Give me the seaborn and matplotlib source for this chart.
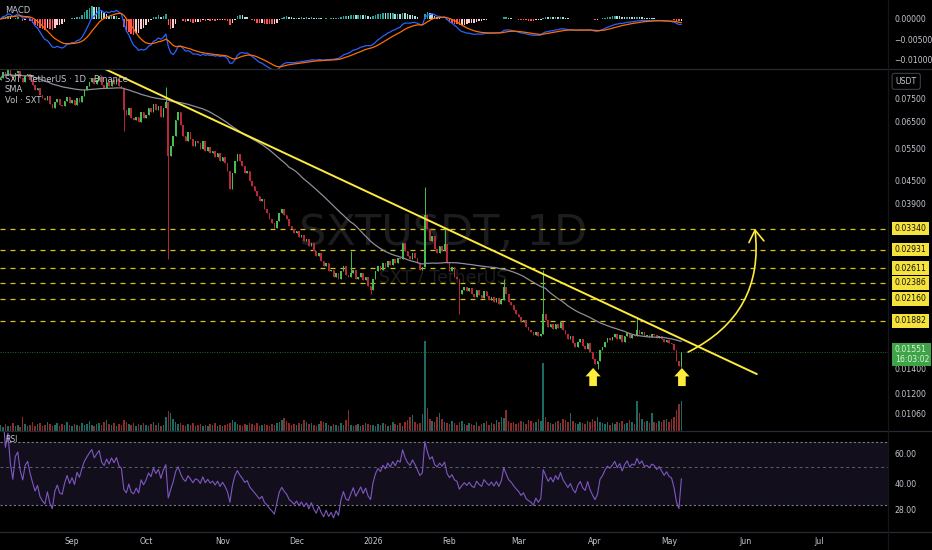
import numpy as np
import pandas as pd
import matplotlib
matplotlib.use("Agg")
import matplotlib.pyplot as plt
from matplotlib.lines import Line2D
from matplotlib.ticker import FixedLocator, NullLocator, FixedFormatter
import seaborn as sns

# ---- values: SXT/USDT 1D (Binance) ----
start_day = "2025-08-03"
first_open = 0.0840

close_aug = [.0850, .0882, .0866, .0893, .0860, .0839, .0876, .0888, .0850, .0829,
             .0860, .0871, .0839, .0813, .0788, .0798, .0764, .0750, .0741, .0759,
             .0723, .0705, .0732, .0745, .0718, .0714, .0736, .0754, .0727]
close_sep = [.0741, .0718, .0750, .0732, .0759, .0788, .0808, .0829, .0850, .0818,
             .0839, .0860, .0813, .0798, .0829, .0808, .0839, .0818, .0845, .0808,
             .0798, .0696, .0678, .0705, .0662, .0654, .0670, .0646, .0687, .0662]
close_oct = [.0678, .0705, .0687, .0723, .0696, .0714, .0670, .0705, .0732, .0525,
             .0559, .0595, .0654, .0687, .0634, .0595, .0577, .0607, .0584, .0559,
             .0577, .0570, .0549, .0577, .0542, .0556, .0535, .0542, .0522, .0535, .0509]
close_nov = [.0522, .0503, .0478, .0427, .0472, .0509, .0532, .0509, .0493, .0472,
             .0478, .0449, .0435, .0422, .0409, .0396, .0401, .0377, .0368, .0355,
             .0346, .0335, .0350, .0368, .0377, .0364, .0355, .0339, .0333, .0325]
close_dec = [.0329, .0317, .0321, .0309, .0313, .0299, .0305, .0290, .0281, .0287,
             .0273, .0264, .0269, .0256, .0259, .0248, .0253, .0244, .0256, .0264,
             .0250, .0247, .0253, .0259, .0244, .0248, .0253, .0242, .0247, .0234, .0228]
close_jan = [.0244, .0256, .0264, .0259, .0269, .0263, .0273, .0266, .0276, .0269,
             .0279, .0276, .0305, .0290, .0281, .0276, .0287, .0279, .0269, .0259,
             .0263, .0363, .0333, .0309, .0319, .0294, .0287, .0299, .0290, .0303, .0269]
close_feb = [.0256, .0263, .0248, .0244, .0222, .0228, .0233, .0226, .0231, .0222,
             .0219, .0228, .0221, .0217, .0226, .0220, .0215, .0219, .0212, .0217,
             .0209, .0215, .0233, .0222, .0212, .0208, .0202, .0197]
close_mar = [.0193, .0187, .0189, .0181, .0178, .0176, .0172, .0176, .0171, .0173,
             .0197, .0189, .0181, .0185, .0179, .0185, .0180, .0187, .0178, .0173,
             .0168, .0171, .0164, .0160, .0165, .0168, .0161, .0158, .0164, .0155, .0149]
close_apr = [.0144, .0147, .0157, .0160, .0165, .0169, .0167, .0170, .0174, .0168,
             .0172, .0165, .0171, .0175, .0169, .0172, .0171, .0178, .0173, .0176,
             .0171, .0172, .0170, .0173, .0172, .0169, .0171, .0168, .0165, .0167]
close_may = [.0164, .0163, .0157, .0147, .0142, .01551]

# volume (M SXT)
vol_aug = [6, 4, 7, 5, 5, 8, 5, 6, 4, 14, 7, 5, 6, 9, 5, 7, 8, 5, 6, 9, 7, 5, 6, 8, 5, 7, 6, 9, 6]
vol_sep = [5, 7, 6, 5, 8, 6, 7, 10, 6, 5, 7, 8, 6, 9, 11, 7, 6, 8, 5, 7, 6, 11, 9, 7, 6, 8, 5, 7, 6, 8]
vol_oct = [6, 5, 7, 9, 6, 8, 5, 6, 14, 20, 18, 12, 9, 7, 8, 6, 5, 7, 6, 8, 5, 6, 7, 5, 6, 5, 7, 6, 8, 5, 6]
vol_nov = [5, 6, 7, 8, 11, 9, 7, 6, 5, 7, 6, 8, 7, 6, 8, 5, 6, 7, 6, 5, 7, 6, 8, 9, 11, 13, 10, 8, 6, 7]
vol_dec = [6, 8, 7, 11, 9, 7, 8, 6, 5, 7, 10, 9, 8, 6, 5, 7, 6, 5, 8, 6, 11, 21, 6, 5, 6, 7, 5, 6, 8, 7, 6]
vol_jan = [6, 5, 7, 6, 8, 7, 5, 6, 9, 7, 6, 8, 5, 9, 11, 14, 16, 9, 7, 8, 17, 90, 23, 12, 10, 9, 14, 18, 12, 9, 8]
vol_feb = [7, 10, 8, 6, 9, 10, 7, 6, 8, 7, 6, 9, 5, 7, 8, 10, 6, 8, 7, 11, 9, 14, 13, 21, 10, 8, 9, 7]
vol_mar = [8, 10, 9, 7, 11, 10, 8, 9, 12, 10, 68, 14, 9, 8, 7, 9, 10, 8, 12, 11, 9, 18, 10, 8, 7, 9, 8, 7, 10, 9, 12]
vol_apr = [10, 14, 9, 8, 7, 9, 6, 8, 7, 9, 8, 10, 7, 8, 11, 9, 7, 30, 18, 12, 9, 10, 8, 18, 9, 8, 10, 9, 11, 12]
vol_may = [9, 12, 14, 21, 27, 30]

# long wicks
wick_days = ["2025-09-22", "2025-10-09", "2025-10-10", "2025-12-23", "2025-12-31", "2026-01-22",
             "2026-01-30", "2026-02-05", "2026-02-23", "2026-03-11", "2026-04-02", "2026-04-18", "2026-05-06"]
wick_high = [np.nan, .0803, np.nan, .0290, np.nan, .0433, .0333, np.nan, .0244, .0258, np.nan, .0193, np.nan]
wick_low = [.0614, np.nan, .0276, np.nan, .0223, np.nan, np.nan, .0197, np.nan, np.nan, .0140, np.nan, .0141]

levels = [0.03340, 0.02931, 0.02611, 0.02386, 0.02160, 0.01882]
last_price = 0.01551
countdown = "16:03:02"
price_ticks = [0.075, 0.065, 0.055, 0.045, 0.039, 0.014, 0.012, 0.0106]
macd_ticks = [0.0, -0.005, -0.01]
rsi_ticks = [60, 40, 28]
macd_fast, macd_slow, macd_sig = 8, 44, 9

trend_dates = ["2025-09-14 08:00", "2026-06-05 14:00"]
trend_prices = [0.0900, 0.01353]
target_from = ("2026-05-08 17:00", 0.01551)
target_to = ("2026-06-04 19:00", 0.03340)
bottom_dates = ["2026-03-31 05:00", "2026-05-06 05:00"]
arrow_tip, arrow_base = 0.01405, 0.01256

# ---- build frame ----
closes = close_aug + close_sep + close_oct + close_nov + close_dec + close_jan + close_feb + close_mar + close_apr + close_may
volumes = vol_aug + vol_sep + vol_oct + vol_nov + vol_dec + vol_jan + vol_feb + vol_mar + vol_apr + vol_may
df = pd.DataFrame({"date": pd.date_range(start_day, periods=len(closes), freq="D"),
                   "close": closes, "volume": volumes})
df["open"] = df["close"].shift(1).fillna(first_open)
wk = pd.DataFrame({"date": pd.to_datetime(wick_days), "wh": wick_high, "wl": wick_low})
df = df.merge(wk, on="date", how="left")
df["body_hi"] = df[["open", "close"]].max(axis=1)
df["body_lo"] = df[["open", "close"]].min(axis=1)
df["high"] = df[["body_hi", "wh"]].max(axis=1)
df["low"] = df[["body_lo", "wl"]].min(axis=1)
up = df["close"] >= df["open"]

df["sma"] = df["close"].rolling(50, min_periods=1).mean()
ema_f = df["close"].ewm(span=macd_fast, adjust=False).mean()
ema_s = df["close"].ewm(span=macd_slow, adjust=False).mean()
df["macd"] = ema_f - ema_s
df["signal"] = df["macd"].ewm(span=macd_sig, adjust=False).mean()
df["hist"] = df["macd"] - df["signal"]
delta = df["close"].diff()
gain = delta.clip(lower=0).ewm(alpha=1 / 14, adjust=True).mean()
loss = (-delta.clip(upper=0)).ewm(alpha=1 / 14, adjust=True).mean()
df["rsi"] = 100 - 100 / (1 + gain / loss)
df["rsi"] = df["rsi"].bfill()

# ---- style ----
BG = "#000000"
TXT = "#c3c6ce"
GRID = "#262a33"
UP, DOWN = "#46bf50", "#b8283a"
VUP, VDOWN = "#1d6a62", "#8a2c2c"
YEL = "#ffeb3b"

sns.set_theme(style="dark", rc={"axes.facecolor": BG, "figure.facecolor": BG})
plt.rcParams["font.family"] = ["DejaVu Sans"]
FS = 5.6

fig = plt.figure(figsize=(9.32, 5.5), dpi=100)
W = 888 / 932
ax_m = fig.add_axes([0, 481 / 550, W, 69 / 550])
ax_v = fig.add_axes([0, 119 / 550, W, 362 / 550])
ax = fig.add_axes([0, 119 / 550, W, 362 / 550])
ax_r = fig.add_axes([0, 18 / 550, W, 101 / 550])
ax.set_facecolor("none")

x0 = pd.Timestamp(start_day) - pd.Timedelta(hours=5)
x1 = pd.Timestamp(start_day) + pd.Timedelta(days=359.75)

for a in (ax_m, ax_v, ax, ax_r):
    a.set_xlim(x0, x1)
    for s in a.spines.values():
        s.set_visible(False)
    a.grid(False)
    a.tick_params(axis="both", length=0, labelsize=FS, colors=TXT)
    a.yaxis.tick_right()
    a.set_xticks([])

# ---- volume (bottom layer) ----
ax_v.bar(df["date"], df["volume"], width=0.62, color=np.where(up, VUP, VDOWN), linewidth=0)
ax_v.set_ylim(0, 362)
ax_v.set_yticks([])
ax_v.text(0.499, 0.547, "SXTUSDT, 1D", transform=ax_v.transAxes, ha="center", va="center",
          fontsize=31, color="#1d1d1f")
ax_v.text(0.499, 0.425, "SXT / TetherUS", transform=ax_v.transAxes, ha="center", va="center",
          fontsize=12.5, color="#1d1d1f")

# ---- price panel ----
ax.set_yscale("log")
ax.set_ylim(0.00950, 0.0900)
body = np.maximum(df["body_hi"] - df["body_lo"], df["body_lo"] * 0.004)
colors = np.where(up, UP, DOWN)
ax.vlines(df["date"], df["low"], df["high"], colors=colors, lw=0.7, zorder=3)
ax.bar(df["date"], body, bottom=df["body_lo"], width=0.66, color=colors, linewidth=0, zorder=4)
sns.lineplot(x=df["date"], y=df["sma"], ax=ax, color="#8c8f99", lw=0.9, zorder=5)

for lv in levels:
    ax.axhline(lv, color="#d8c21c", lw=0.9, ls=(0, (4, 4)), zorder=2)
ax.axhline(last_price, color="#1f6b2a", lw=0.7, ls=(0, (1, 1.5)), zorder=2)

sns.lineplot(x=pd.to_datetime(trend_dates), y=trend_prices, ax=ax, color=YEL, lw=1.4, zorder=6)

ax.annotate("", xy=(pd.Timestamp(target_to[0]), target_to[1]),
            xytext=(pd.Timestamp(target_from[0]), target_from[1]),
            arrowprops=dict(arrowstyle="->,head_length=0.7,head_width=0.45", color=YEL, lw=1.2,
                            connectionstyle="arc3,rad=0.35", shrinkA=0, shrinkB=0), zorder=7)
for d in bottom_dates:
    ax.annotate("", xy=(pd.Timestamp(d), arrow_tip), xytext=(pd.Timestamp(d), arrow_base),
                arrowprops=dict(arrowstyle="simple,head_length=0.55,head_width=1.0,tail_width=0.5",
                                color=YEL, lw=0, shrinkA=0, shrinkB=0, mutation_scale=11), zorder=7)

ax.yaxis.set_major_locator(FixedLocator(price_ticks))
ax.yaxis.set_minor_locator(NullLocator())
ax.yaxis.set_major_formatter(FixedFormatter([f"{t:.5f}" for t in price_ticks]))
ax.tick_params(axis="y", pad=4.5)
ax.set_xticks([])
ax.set_xlabel("")
ax.set_ylabel("")

ytr = ax.get_yaxis_transform()
for lv in levels:
    ax.text(1.0075, lv, f"{lv:.5f}", transform=ytr, ha="left", va="center", fontsize=FS, color="#111111",
            clip_on=False, zorder=20, bbox=dict(boxstyle="square,pad=0.3", fc="#f5e23a", ec="none"))
ax.text(1.0075, last_price * 0.985, f"{last_price:.5f}\n{countdown}", transform=ytr, ha="left", va="center",
        fontsize=FS, color="#d8f5d0", linespacing=1.15, clip_on=False, zorder=20,
        bbox=dict(boxstyle="square,pad=0.3", fc="#3fa34a", ec="none"))
ax.text(1.0085, 0.966, "USDT", transform=ax.transAxes, ha="left", va="center", fontsize=FS, color=TXT,
        clip_on=False, zorder=20, bbox=dict(boxstyle="round,pad=0.45,rounding_size=0.3", fc=BG, ec="#434651", lw=0.7))

ax.text(0.0056, 0.972, "SXT · TetherUS · 1D · Binance", transform=ax.transAxes, fontsize=6, color=TXT,
        va="center", zorder=9)
ax.text(0.0056, 0.942, "SMA", transform=ax.transAxes, fontsize=6, color=TXT, va="center", zorder=9)
ax.text(0.0056, 0.912, "Vol · SXT", transform=ax.transAxes, fontsize=6, color=TXT, va="center", zorder=9)

# ---- MACD panel ----
hist_prev = df["hist"].shift(1).fillna(0)
hcol = np.where(df["hist"] >= 0,
                np.where(df["hist"] >= hist_prev, "#26a69a", "#b2dfdb"),
                np.where(df["hist"] >= hist_prev, "#ffcdd2", "#ff5252"))
ax_m.bar(df["date"], df["hist"], width=0.62, color=hcol, linewidth=0)
sns.lineplot(x=df["date"], y=df["macd"], ax=ax_m, color="#2962ff", lw=0.9)
sns.lineplot(x=df["date"], y=df["signal"], ax=ax_m, color="#ff6d00", lw=0.9)
ax_m.set_ylim(-0.0122, 0.00463)
ax_m.yaxis.set_major_locator(FixedLocator(macd_ticks))
ax_m.yaxis.set_major_formatter(FixedFormatter([f"{t:.5f}".replace("-", "\u2212") for t in macd_ticks]))
ax_m.tick_params(axis="y", pad=4.5)
ax_m.set_xticks([])
ax_m.set_xlabel("")
ax_m.set_ylabel("")
ax_m.text(0.0056, 0.855, "MACD", transform=ax_m.transAxes, fontsize=6, color=TXT, va="center")

# ---- RSI panel ----
ax_r.set_yscale("log")
ax_r.set_ylim(20.7, 81)
ax_r.axhspan(30, 70, color="#120e1c", lw=0, zorder=0)
ax_r.axhline(70, color="#787b86", lw=0.8, ls=(0, (2, 2)), zorder=1)
ax_r.axhline(50, color="#5d606b", lw=0.7, ls=(0, (3, 3)), zorder=1)
ax_r.axhline(30, color="#787b86", lw=0.8, ls=(0, (2, 2)), zorder=1)
sns.lineplot(x=df["date"], y=df["rsi"], ax=ax_r, color="#7e57c2", lw=0.8, zorder=3)
ax_r.yaxis.set_major_locator(FixedLocator(rsi_ticks))
ax_r.yaxis.set_minor_locator(NullLocator())
ax_r.yaxis.set_major_formatter(FixedFormatter([f"{t:.2f}" for t in rsi_ticks]))
ax_r.tick_params(axis="y", pad=4.5)
ax_r.set_ylabel("")
ax_r.text(0.0056, 0.911, "RSI", transform=ax_r.transAxes, fontsize=5.5, color=TXT, va="center")

months = pd.date_range("2025-09-01", "2026-07-01", freq="MS")
ax_r.xaxis.set_major_locator(FixedLocator(matplotlib.dates.date2num(months)))
ax_r.xaxis.set_minor_locator(NullLocator())
ax_r.xaxis.set_major_formatter(FixedFormatter([str(m.year) if m.month == 1 else m.strftime("%b") for m in months]))
ax_r.tick_params(axis="x", pad=3.5, labelsize=FS, colors=TXT)
ax_r.set_xlabel("")

# ---- pane separators ----
for yy in (550 - 69, 550 - 431, 550 - 532):
    fig.add_artist(Line2D([0, 1], [yy / 550, yy / 550], transform=fig.transFigure, color=GRID, lw=0.9))
fig.add_artist(Line2D([W, W], [0, 1], transform=fig.transFigure, color="#15171d", lw=0.9))

fig.savefig("out.png", dpi=100, facecolor=BG)
